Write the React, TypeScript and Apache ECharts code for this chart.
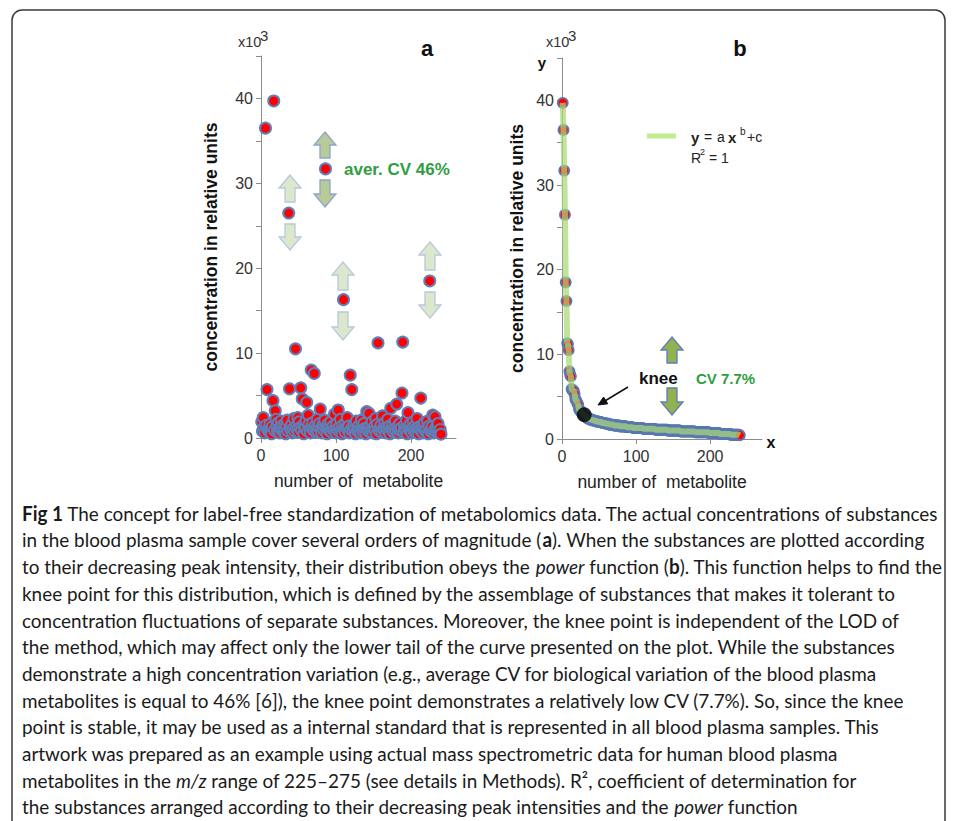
import React, { useEffect, useRef } from 'react';
import * as echarts from 'echarts';

// concentration (x10^3, relative units) of metabolites 1..240, in order of number
const CONC_A: number[] = [
  1.9, 0.8, 2.4, 1.2, 0.6, 36.5, 1.5, 5.7, 0.9, 1.1,
  0.7, 1.6, 1.0, 0.5, 1.3, 4.4, 39.7, 0.9, 3.2, 2.2,
  1.4, 0.8, 1.8, 1.1, 0.6, 1.2, 2.0, 0.9, 1.5, 0.7,
  1.0, 1.7, 0.5, 1.3, 2.1, 0.8, 26.5, 5.8, 1.2, 0.9,
  1.6, 0.6, 1.1, 2.3, 0.8, 10.5, 1.4, 1.0, 2.4, 0.7,
  1.9, 1.2, 5.9, 0.9, 4.6, 1.5, 0.5, 1.3, 1.1, 2.0,
  4.2, 0.8, 2.7, 1.6, 1.0, 0.6, 8.0, 1.2, 1.8, 0.9,
  7.6, 1.4, 0.7, 1.1, 2.2, 0.8, 1.3, 1.7, 3.4, 1.0,
  0.6, 1.5, 1.2, 0.9, 2.1, 31.7, 1.1, 0.5, 1.6, 1.0,
  1.3, 0.8, 1.9, 0.7, 1.2, 1.4, 0.9, 2.8, 1.1, 0.6,
  1.7, 1.0, 3.3, 0.8, 1.3, 2.2, 0.9, 0.5, 1.5, 16.3,
  1.1, 0.7, 1.8, 1.2, 2.4, 0.9, 1.4, 0.6, 7.4, 1.0,
  5.7, 1.3, 0.8, 1.6, 1.1, 0.5, 2.0, 0.9, 1.2, 0.7,
  1.5, 1.0, 0.6, 2.1, 1.3, 0.8, 1.7, 1.1, 0.9, 0.5,
  3.1, 1.2, 0.8, 2.9, 1.4, 0.7, 1.0, 1.9, 0.6, 1.1,
  1.3, 0.9, 2.3, 0.5, 1.6, 11.2, 1.0, 0.8, 1.2, 1.5,
  0.7, 2.6, 1.1, 0.9, 1.8, 0.6, 1.3, 1.0, 2.2, 0.8,
  1.4, 0.5, 3.5, 1.2, 0.9, 1.6, 0.7, 1.1, 2.0, 0.8,
  4.0, 1.3, 0.6, 1.0, 1.7, 0.9, 1.2, 5.3, 11.3, 0.7,
  1.5, 1.1, 0.8, 2.1, 0.5, 3.0, 1.3, 0.9, 1.6, 1.0,
  0.6, 1.2, 1.9, 0.8, 1.4, 0.7, 1.1, 2.3, 0.9, 0.5,
  1.3, 1.0, 4.7, 0.8, 1.5, 0.6, 1.2, 1.8, 0.9, 0.7,
  1.1, 2.0, 0.5, 1.4, 18.5, 0.8, 1.0, 1.3, 2.7, 0.6,
  0.9, 2.5, 1.2, 0.7, 1.1, 1.7, 0.6, 0.8, 1.0, 0.45,
];

const X_TICKS = [0, 100, 200];
const Y_LABELS = [0, 10, 20, 30, 40];
const KNEE_POINT: [number, number] = [30, 2.85];

const CAPTION_LINES = [
  '{b|Fig 1} The concept for label-free standardization of metabolomics data. The actual concentrations of substances',
  'in the blood plasma sample cover several orders of magnitude ({b|a}). When the substances are plotted according',
  'to their decreasing peak intensity, their distribution obeys the {i|power} function ({b|b}). This function helps to find the',
  'knee point for this distribution, which is defined by the assemblage of substances that makes it tolerant to',
  'concentration fluctuations of separate substances. Moreover, the knee point is independent of the LOD of',
  'the method, which may affect only the lower tail of the curve presented on the plot. While the substances',
  'demonstrate a high concentration variation (e.g., average CV for biological variation of the blood plasma',
  'metabolites is equal to 46% [6]), the knee point demonstrates a relatively low CV (7.7%). So, since the knee',
  'point is stable, it may be used as a internal standard that is represented in all blood plasma samples. This',
  'artwork was prepared as an example using actual mass spectrometric data for human blood plasma',
  'metabolites in the {i|m/z} range of 225–275 (see details in Methods). R², coefficient of determination for',
  'the substances arranged according to their decreasing peak intensities and the {i|power} function',
];

const FONT = '"Liberation Sans", Arial, sans-serif';
const CAP_FONT = 'Lato';
const CAP_FS = 20;

function blockArrow(cx: number, top: number, bottom: number, up: boolean, fill: string, stroke: string) {
  const hw = 11, sw = 5, hh = 13;
  let pts: number[][];
  if (up) {
    pts = [[cx, top], [cx + hw, top + hh], [cx + sw, top + hh], [cx + sw, bottom], [cx - sw, bottom], [cx - sw, top + hh], [cx - hw, top + hh]];
  } else {
    pts = [[cx, bottom], [cx + hw, bottom - hh], [cx + sw, bottom - hh], [cx + sw, top], [cx - sw, top], [cx - sw, bottom - hh], [cx - hw, bottom - hh]];
  }
  return { type: 'polygon', shape: { points: pts }, style: { fill, stroke, lineWidth: 1.3 }, z: 10 };
}

function txt(x: number, y: number, text: string, size: number, opts: any = {}) {
  return {
    type: 'text', x, y, z: 12,
    style: {
      text, fontSize: size, fontFamily: FONT, fontWeight: opts.bold ? 'bold' : 'normal',
      fill: opts.fill || '#222', textAlign: opts.align || 'left', textVerticalAlign: 'middle',
    },
  };
}

export default function App() {
  const ref = useRef<HTMLDivElement>(null);

  useEffect(() => {
    if (!ref.current) return;
    const chart = echarts.init(ref.current, undefined, { renderer: 'svg' });

    const pointsA = CONC_A.map((v, i) => [i + 1, v]);
    const sorted = [...CONC_A].sort((a, b) => b - a);
    const pointsB = sorted.map((v, i) => [i + 1, v]);

    // caption horizontal scale to match line width
    const ctx = document.createElement('canvas').getContext('2d')!;
    ctx.font = `bold ${CAP_FS}px ${CAP_FONT}`;
    const wb = ctx.measureText('Fig 1').width;
    ctx.font = `${CAP_FS}px ${CAP_FONT}`;
    const wr = ctx.measureText(' The concept for label-free standardization of metabolomics data. The actual concentrations of substances').width;
    const capScale = 918 / (wb + wr);

    const captionEls = CAPTION_LINES.map((line, i) => ({
      type: 'text', x: 22, y: 513 + 26.7 * i, scaleX: capScale, z: 12,
      style: {
        text: line, fontSize: CAP_FS, fontFamily: CAP_FONT, fill: '#1a1a1a',
        textAlign: 'left', textVerticalAlign: 'middle',
        rich: {
          b: { fontWeight: 'bold', fontSize: CAP_FS, fontFamily: CAP_FONT, fill: '#1a1a1a' },
          i: { fontStyle: 'italic', fontSize: CAP_FS, fontFamily: CAP_FONT, fill: '#1a1a1a' },
        },
      },
    }));

    const arrowDark = { fill: '#b8ca98', stroke: '#8da5c9' };
    const arrowLight = { fill: '#dce8cc', stroke: '#b7c8df' };
    const arrowB = { fill: '#93b150', stroke: '#5d7fb8' };

    const axisCommon = {
      axisLine: { show: true, onZero: false, lineStyle: { color: '#8c8c8c', width: 1 } },
      splitLine: { show: false },
    };

    const xAxisFor = (grid: number, max: number) => ({
      gridIndex: grid, type: 'value', min: 0, max,
      ...axisCommon,
      axisTick: { show: true, length: 5, inside: false, customValues: X_TICKS, lineStyle: { color: '#8c8c8c' } },
      axisLabel: { customValues: X_TICKS, margin: 9, fontSize: 16, fontFamily: FONT, color: '#333' },
      name: 'number of  metabolite', nameLocation: 'middle', nameGap: 34,
      nameTextStyle: { fontSize: 17.5, fontFamily: FONT, color: '#222' },
    });

    const yAxisFor = (grid: number, gap: number) => ({
      gridIndex: grid, type: 'value', min: 0, max: 45, interval: 5,
      ...axisCommon,
      axisTick: { show: true, length: 5, lineStyle: { color: '#8c8c8c' } },
      axisLabel: { customValues: Y_LABELS, margin: 8, fontSize: 16, fontFamily: FONT, color: '#333' },
      name: 'concentration in relative units', nameLocation: 'middle', nameGap: gap, nameRotate: 90,
      nameTextStyle: { fontSize: 17.5, fontWeight: 'bold', fontFamily: FONT, color: '#111' },
    });

    const option: any = {
      animation: false,
      backgroundColor: '#ffffff',
      grid: [
        { left: 261, top: 56, width: 195, height: 382 },
        { left: 562, top: 58, width: 200, height: 381 },
      ],
      xAxis: [xAxisFor(0, 260), xAxisFor(1, 270)],
      yAxis: [yAxisFor(0, 41), yAxisFor(1, 36)],
      series: [
        {
          type: 'scatter', xAxisIndex: 0, yAxisIndex: 0, data: pointsA,
          symbolSize: 11,
          itemStyle: { color: '#ff0000', borderColor: '#5f7fb8', borderWidth: 2, opacity: 1 },
        },
        {
          type: 'scatter', xAxisIndex: 1, yAxisIndex: 1, data: pointsB,
          symbolSize: 10,
          itemStyle: { color: '#ff0000', borderColor: '#5a78b2', borderWidth: 1.8, opacity: 1 },
        },
        {
          type: 'line', xAxisIndex: 1, yAxisIndex: 1, data: pointsB,
          showSymbol: false, symbol: 'none',
          lineStyle: { color: '#a9d877', width: 6, opacity: 0.72 },
          z: 3,
        },
        {
          type: 'scatter', xAxisIndex: 1, yAxisIndex: 1, data: [KNEE_POINT],
          symbolSize: 15, itemStyle: { color: '#000000' }, z: 4,
        },
      ],
      graphic: [
        {
          type: 'rect', z: 0,
          shape: { x: 12, y: 10, width: 933, height: 840, r: 10 },
          style: { fill: 'none', stroke: '#3a3a3a', lineWidth: 1.5 },
        },
        // panel labels
        txt(427, 48, 'a', 22, { bold: true, fill: '#111', align: 'center' }),
        txt(740, 48, 'b', 22, { bold: true, fill: '#111', align: 'center' }),
        // x10^3
        txt(238, 42, 'x10', 14.5, { fill: '#333' }),
        txt(260, 35, '3', 15, { fill: '#333' }),
        txt(546, 42, 'x10', 14.5, { fill: '#333' }),
        txt(568, 35, '3', 15, { fill: '#333' }),
        txt(542, 62, 'y', 15, { bold: true, fill: '#111', align: 'center' }),
        txt(771, 442, 'x', 16, { bold: true, fill: '#111', align: 'center' }),
        // panel a arrows
        blockArrow(325, 132, 158, true, arrowDark.fill, arrowDark.stroke),
        blockArrow(325, 180, 207, false, arrowDark.fill, arrowDark.stroke),
        blockArrow(290, 175, 202, true, arrowLight.fill, arrowLight.stroke),
        blockArrow(290, 224, 250, false, arrowLight.fill, arrowLight.stroke),
        blockArrow(343, 262, 290, true, arrowLight.fill, arrowLight.stroke),
        blockArrow(343, 312, 340, false, arrowLight.fill, arrowLight.stroke),
        blockArrow(430, 242, 270, true, arrowLight.fill, arrowLight.stroke),
        blockArrow(430, 292, 318, false, arrowLight.fill, arrowLight.stroke),
        txt(344, 169, 'aver. CV 46%', 17, { bold: true, fill: '#2f9e3f' }),
        // panel b arrows
        blockArrow(672, 337, 363, true, arrowB.fill, arrowB.stroke),
        blockArrow(672, 388, 415, false, arrowB.fill, arrowB.stroke),
        txt(639, 378, 'knee', 17, { bold: true, fill: '#111' }),
        txt(696, 378, 'CV 7.7%', 15, { bold: true, fill: '#2f9e3f' }),
        {
          type: 'line', z: 12,
          shape: { x1: 628, y1: 387, x2: 604, y2: 401.5 },
          style: { stroke: '#111', lineWidth: 1.5 },
        },
        {
          type: 'polygon', z: 12,
          shape: { points: [[598, 405], [607.8, 403.8], [603.6, 397.0]] },
          style: { fill: '#111', stroke: '#111', lineWidth: 1 },
        },
        // legend
        {
          type: 'line', z: 12,
          shape: { x1: 647, y1: 136, x2: 676, y2: 136 },
          style: { stroke: '#c3ec8c', lineWidth: 5 },
        },
        txt(691, 137, 'y', 15, { bold: true, fill: '#222' }),
        txt(704, 137, '=', 14, { fill: '#222' }),
        txt(717, 137, 'a', 14, { fill: '#222' }),
        txt(728, 137, 'x', 15, { bold: true, fill: '#222' }),
        txt(740, 131, 'b', 10, { fill: '#222' }),
        txt(747, 137, '+c', 14, { fill: '#222' }),
        txt(691, 158, 'R', 14, { fill: '#222' }),
        txt(700, 152, '2', 9, { fill: '#222' }),
        txt(709, 158, '= 1', 14, { fill: '#222' }),
        ...captionEls,
      ],
    };

    chart.setOption(option);
    return () => chart.dispose();
  }, []);

  return (
    <div
      ref={ref}
      style={{ position: 'fixed', left: 0, top: 0, width: 957, height: 821, background: '#fff' }}
    />
  );
}
